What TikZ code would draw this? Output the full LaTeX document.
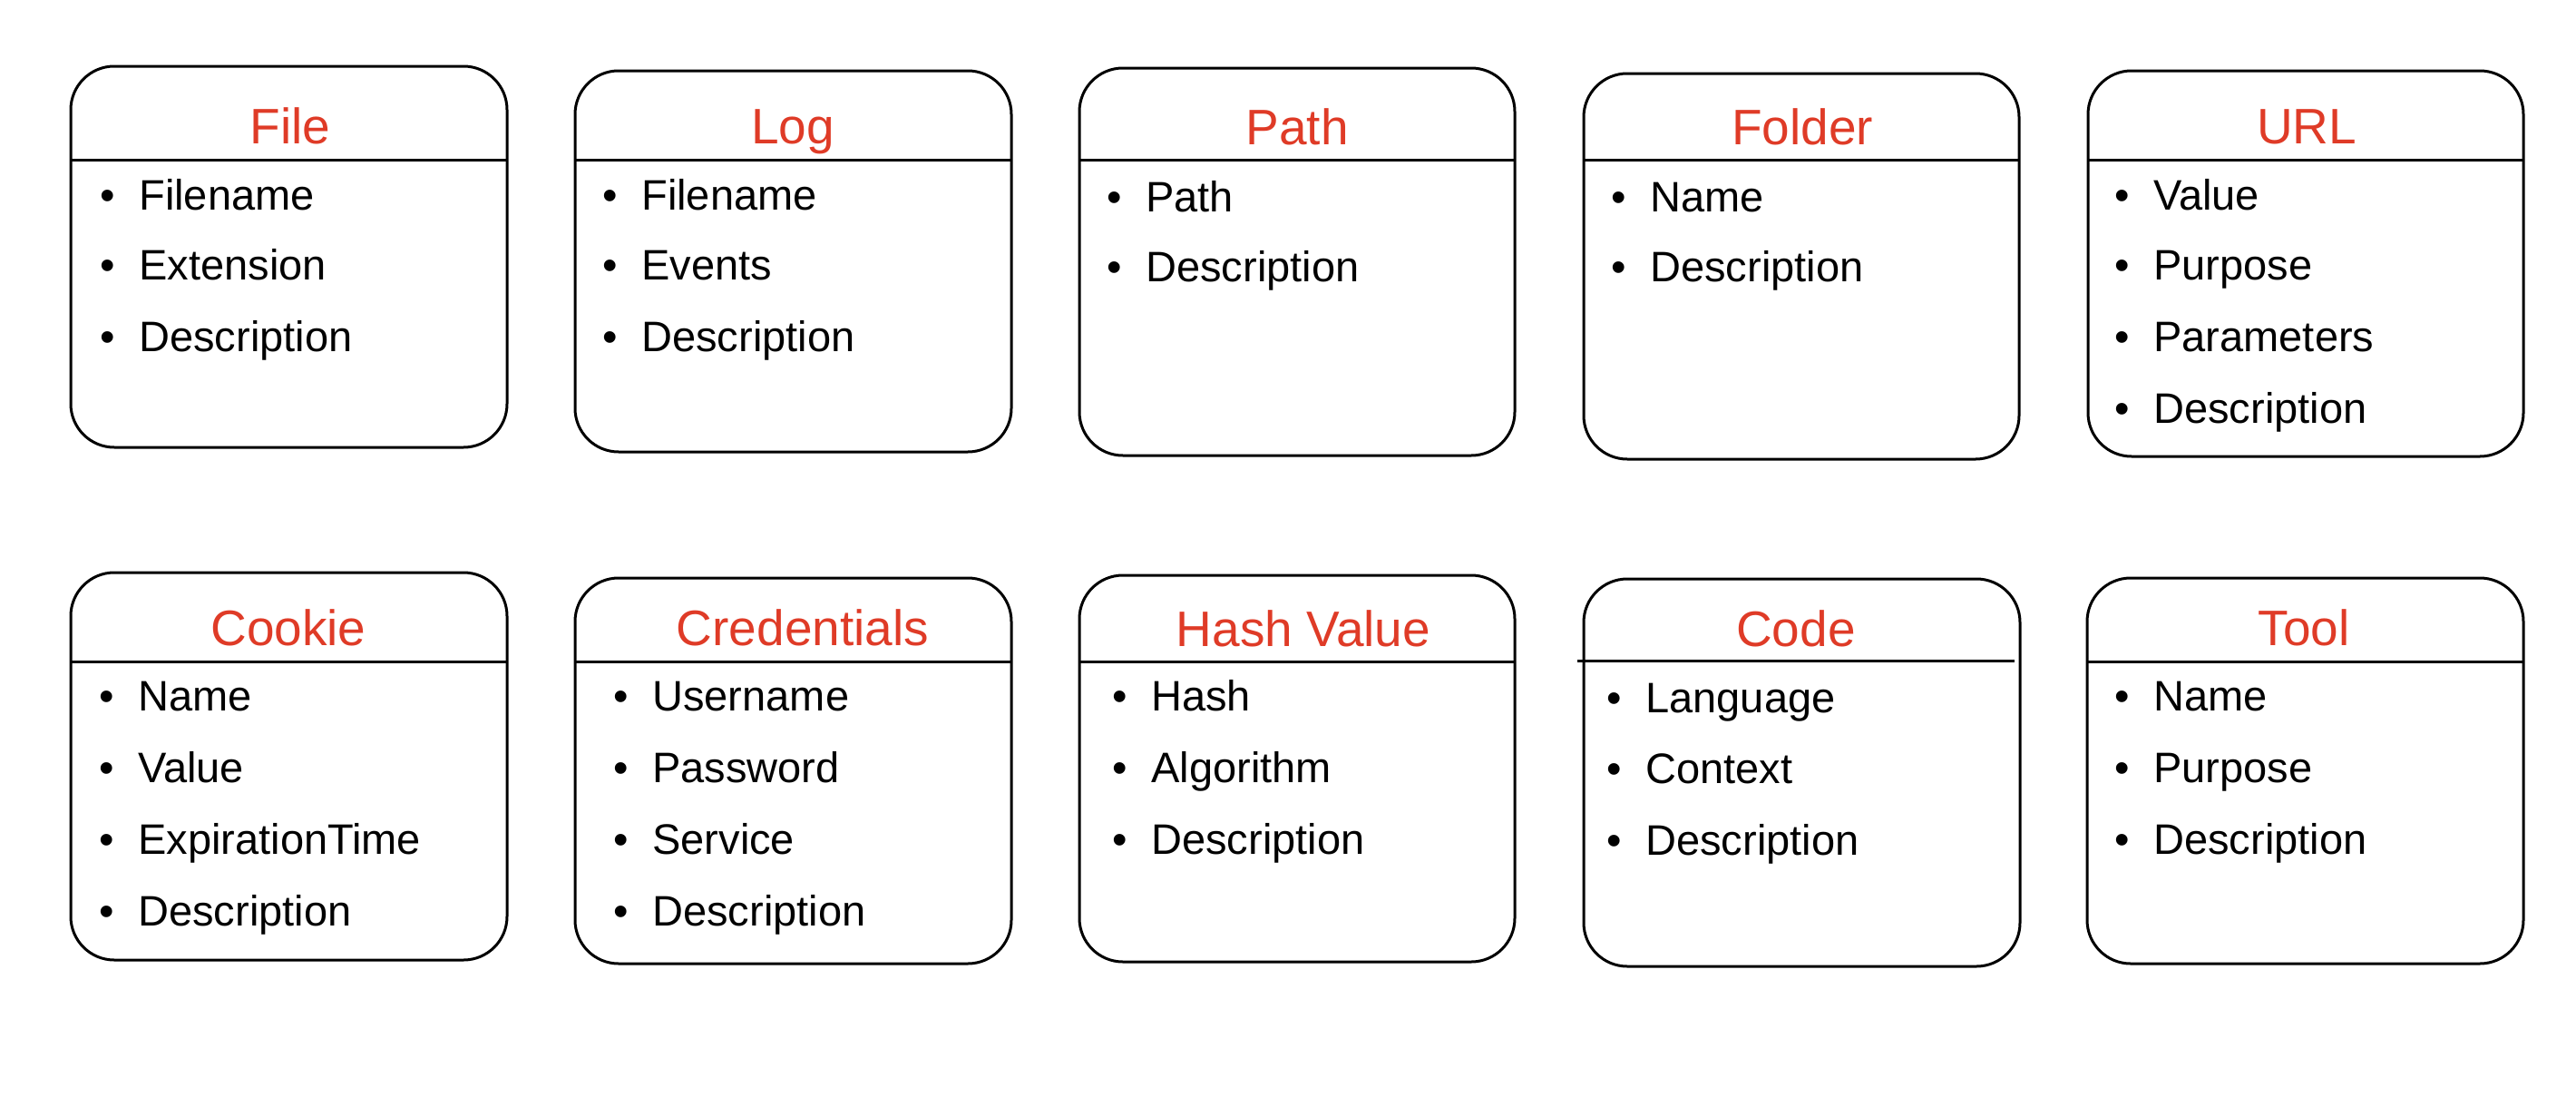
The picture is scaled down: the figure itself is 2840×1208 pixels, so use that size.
\documentclass[tikz,border=0pt]{standalone}
\usepackage{fontspec}
\setmainfont{Liberation Sans}
\definecolor{titlered}{RGB}{223,59,39}
\tikzset{
  entbox/.style={draw, line width=3pt, rounded corners=48pt, inner sep=0pt, outer sep=0pt},
  ttl/.style={anchor=base, inner sep=0pt, text=titlered, font=\fontsize{55}{60}\selectfont},
  itm/.style={anchor=base west, inner sep=0pt, font=\fontsize{47}{52}\selectfont},
  divider/.style={line width=3pt}
}
\newcommand{\bul}[1]{\makebox[43.2pt][l]{•}#1}
\begin{document}
\begin{tikzpicture}[x=1pt,y=-1pt]
\useasboundingbox (0,0) rectangle (2840,1208);
% ---------- row 1 ----------
\node[entbox, minimum width=481, minimum height=420] (file) at (318.5,283) {};
\node[ttl] (fileT) at (320,158) {File};
\draw[divider] (file.west |- 0,176) -- (file.east |- 0,176);
\foreach \t/\y [count=\i] in {Filename/231, Extension/308, Description/387}
  \node[itm] (fileI\i) at (110,\y) {\bul{\t}};

\node[entbox, minimum width=481, minimum height=420] (log) at (874.5,288) {};
\node[ttl] (logT) at (874,158) {Log};
\draw[divider] (log.west |- 0,176) -- (log.east |- 0,176);
\foreach \t/\y [count=\i] in {Filename/231, Events/308, Description/387}
  \node[itm] (logI\i) at (664,\y) {\bul{\t}};

\node[entbox, minimum width=480, minimum height=427] (path) at (1430,288.5) {};
\node[ttl] (pathT) at (1430,159) {Path};
\draw[divider] (path.west |- 0,176) -- (path.east |- 0,176);
\foreach \t/\y [count=\i] in {Path/233, Description/310}
  \node[itm] (pathI\i) at (1220,\y) {\bul{\t}};

\node[entbox, minimum width=480, minimum height=425] (folder) at (1986,293.5) {};
\node[ttl] (folderT) at (1987,159) {Folder};
\draw[divider] (folder.west |- 0,176) -- (folder.east |- 0,176);
\foreach \t/\y [count=\i] in {Name/233, Description/310}
  \node[itm] (folderI\i) at (1776,\y) {\bul{\t}};

\node[entbox, minimum width=480, minimum height=425] (url) at (2542,290.5) {};
\node[ttl] (urlT) at (2543,158) {URL};
\draw[divider] (url.west |- 0,176) -- (url.east |- 0,176);
\foreach \t/\y [count=\i] in {Value/231, Purpose/308, Parameters/387, Description/466}
  \node[itm] (urlI\i) at (2331,\y) {\bul{\t}};

% ---------- row 2 ----------
\node[entbox, minimum width=481, minimum height=427] (cookie) at (318.5,844.5) {};
\node[ttl] (cookieT) at (318,711) {Cookie};
\draw[divider] (cookie.west |- 0,729) -- (cookie.east |- 0,729);
\foreach \t/\y [count=\i] in {Name/783, Value/862, ExpirationTime/941, Description/1020}
  \node[itm] (cookieI\i) at (109,\y) {\bul{\t}};

\node[entbox, minimum width=481, minimum height=425] (cred) at (874.5,849.5) {};
\node[ttl] (credT) at (885,711) {Credentials};
\draw[divider] (cred.west |- 0,729) -- (cred.east |- 0,729);
\foreach \t/\y [count=\i] in {Username/783, Password/862, Service/941, Description/1020}
  \node[itm] (credI\i) at (676,\y) {\bul{\t}};

\node[entbox, minimum width=480, minimum height=426] (hash) at (1430,847) {};
\node[ttl] (hashT) at (1437,712) {Hash Value};
\draw[divider] (hash.west |- 0,729) -- (hash.east |- 0,729);
\foreach \t/\y [count=\i] in {Hash/783, Algorithm/862, Description/941}
  \node[itm] (hashI\i) at (1226,\y) {\bul{\t}};

\node[entbox, minimum width=481, minimum height=427] (code) at (1986.5,851.5) {};
\node[ttl] (codeT) at (1980,712) {Code};
\coordinate (codeL) at (1739,728);
\coordinate (codeR) at (2221,728);
\draw[divider] (codeL) -- (codeR);
\foreach \t/\y [count=\i] in {Language/785, Context/863, Description/942}
  \node[itm] (codeI\i) at (1771,\y) {\bul{\t}};

\node[entbox, minimum width=481, minimum height=425] (tool) at (2541.5,849.5) {};
\node[ttl] (toolT) at (2540,711) {Tool};
\draw[divider] (tool.west |- 0,729) -- (tool.east |- 0,729);
\foreach \t/\y [count=\i] in {Name/783, Purpose/862, Description/941}
  \node[itm] (toolI\i) at (2331,\y) {\bul{\t}};
\end{tikzpicture}
\end{document}
